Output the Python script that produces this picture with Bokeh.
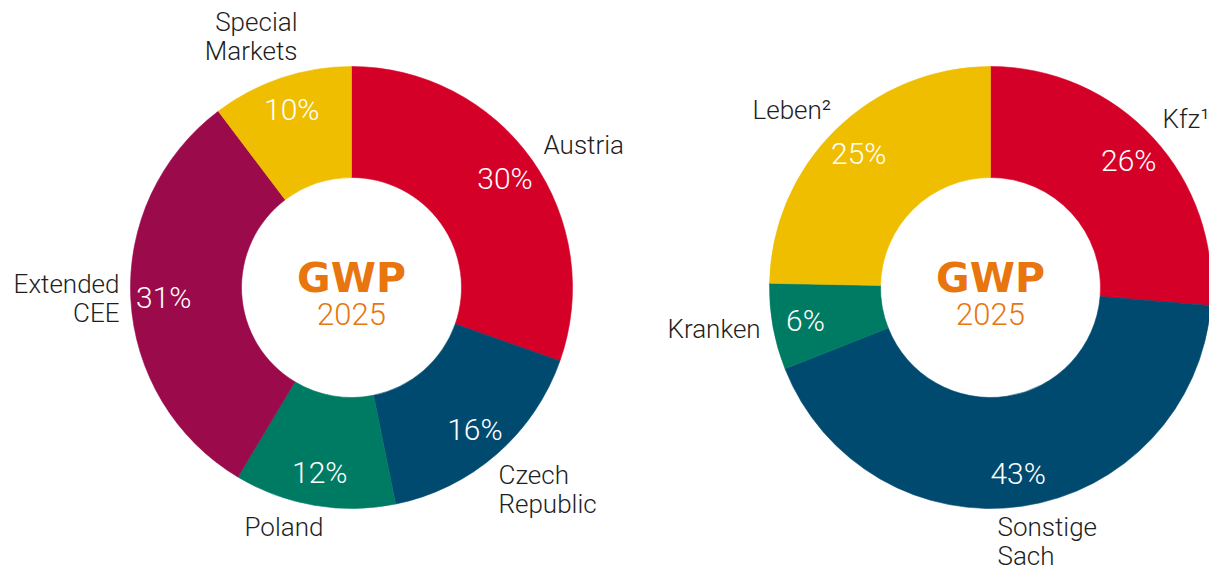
import math
from bokeh.plotting import figure
from bokeh.models import ColumnDataSource, Range1d
from bokeh.core.properties import value
from bokeh.embed import file_html
from bokeh.resources import INLINE

# ---------------- data ----------------
left_labels = ["Austria", "Czech\nRepublic", "Poland", "Extended\nCEE", "Special\nMarkets"]
left_values = [30.4, 16.4, 11.8, 31.1, 10.3]
right_labels = ["Kfz¹", "Sonstige\nSach", "Kranken", "Leben²"]
right_values = [26.3, 42.7, 6.3, 24.7]
center_title = "GWP"
center_year = "2025"

# ---------------- style / layout ----------------
RED, NAVY, GREEN, MAROON, YELLOW = "#D50028", "#004A70", "#007B63", "#9B0A4B", "#F0BE00"
ORANGE = "#E8750E"
LABEL = "#1E1E1E"
left_colors = [RED, NAVY, GREEN, MAROON, YELLOW]
right_colors = [RED, NAVY, GREEN, YELLOW]

LIGHT = value("Roboto Light, Roboto")
W, H = 1209, 571
R_IN, R_OUT, R_PCT = 110, 221, 188
LINE_STEP = 29.5
LBL_SHIFT = 9

# outer label anchors in page pixels: (x, first-line y, align)
left_anchor = {
    "Austria": (543, 153, "left"),
    "Czech\nRepublic": (498, 483, "left"),
    "Poland": (244, 535, "left"),
    "Extended\nCEE": (119, 292, "right"),
    "Special\nMarkets": (297, 30, "right"),
}
right_anchor = {
    "Kfz¹": (1162, 127, "left"),
    "Sonstige\nSach": (997, 535, "left"),
    "Kranken": (667, 337, "left"),
    "Leben²": (752, 118, "left"),
}

p = figure(width=W, height=H, output_backend="svg", toolbar_location=None,
           x_axis_type=None, y_axis_type=None, min_border=0,
           x_range=Range1d(0, W), y_range=Range1d(-H, 0))
p.outline_line_color = None
p.grid.visible = False
p.background_fill_color = "white"
p.border_fill_color = "white"


def donut(cx, cy, labels, values, colors, anchors):
    total = float(sum(values))
    starts, ends, mids = [], [], []
    cum = 0.0
    for v in values:
        a0 = math.pi / 2 - 2 * math.pi * cum / total
        cum += v
        a1 = math.pi / 2 - 2 * math.pi * cum / total
        starts.append(a0)
        ends.append(a1)
        mids.append((a0 + a1) / 2)
    src = ColumnDataSource(dict(
        x=[cx] * len(values), y=[-cy] * len(values),
        start=starts, end=ends, color=colors,
    ))
    p.annular_wedge(x="x", y="y", inner_radius=R_IN, outer_radius=R_OUT,
                    start_angle="start", end_angle="end", direction="clock",
                    fill_color="color", line_color="color", line_width=0.6,
                    source=src)
    pct = ColumnDataSource(dict(
        x=[cx + R_PCT * math.cos(m) for m in mids],
        y=[-cy + R_PCT * math.sin(m) for m in mids],
        t=[f"{round(v / total * 100)}%" for v in values],
    ))
    p.text(x="x", y="y", text="t", source=pct, text_color="white",
           text_font=LIGHT, text_font_size="30px",
           text_align="center", text_baseline="middle")
    # center texts
    p.text(x=[cx], y=[-cy + 10], text=[center_title], text_color=ORANGE,
           text_font=value("DejaVu Sans"), text_font_style="bold",
           text_font_size="41px", text_align="center", text_baseline="middle")
    p.text(x=[cx], y=[-cy - 26], text=[center_year], text_color=ORANGE,
           text_font=LIGHT, text_font_size="31px",
           text_align="center", text_baseline="middle")
    # outer labels (one text per line)
    for lab in labels:
        ax, ay, al = anchors[lab]
        lines = lab.split("\n")
        p.text(x=[ax] * len(lines),
               y=[-(ay - LBL_SHIFT + i * LINE_STEP) for i in range(len(lines))],
               text=lines, text_color=LABEL, text_font=LIGHT,
               text_font_size="26px", text_align=al, text_baseline="alphabetic")


donut(351, 287, left_labels, left_values, left_colors, left_anchor)
donut(990, 287, right_labels, right_values, right_colors, right_anchor)

open("out.html", "w").write(file_html(p, INLINE))
